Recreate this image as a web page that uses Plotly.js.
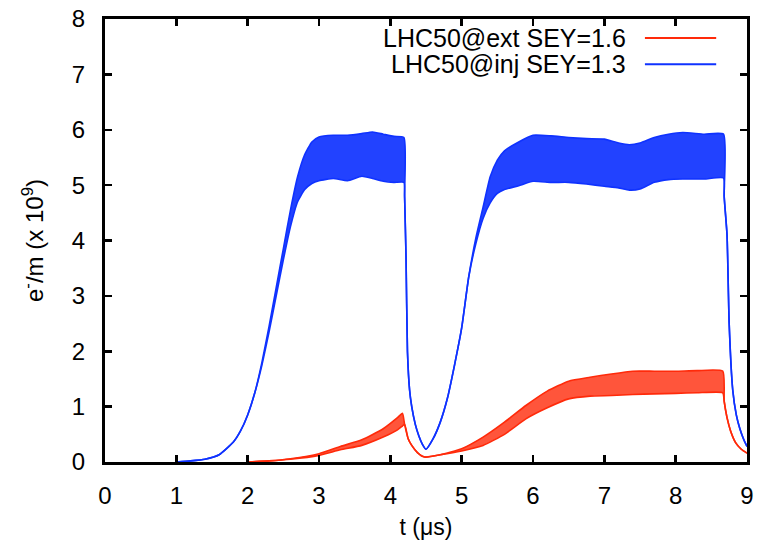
<!DOCTYPE html>
<html>
<head>
<meta charset="utf-8">
<script src="https://cdn.plot.ly/plotly-3.0.1.min.js"></script>
<style>html,body{margin:0;padding:0;background:#fff;}</style>
</head>
<body>
<div id="chart" style="width:760px;height:542px;"></div>
<script>
// ---- Data ----
// Red: LHC50@ext SEY=1.6 — envelope (lower / upper) of the oscillating e-cloud density
const redName = "LHC50@ext SEY=1.6";
const redT     = [2.0, 2.3, 2.6, 3.0, 3.3, 3.6, 3.9, 4.1, 4.17, 4.2, 4.25, 4.3, 4.38, 4.48, 4.7, 5.0, 5.3, 5.6, 5.9, 6.2, 6.5, 6.8, 7.1, 7.4, 7.7, 8.0, 8.3, 8.66, 8.68, 8.72, 8.77, 8.84, 8.92, 9.0];
const redLower = [0.0, 0.02, 0.05, 0.12, 0.22, 0.30, 0.45, 0.58, 0.65, 0.68, 0.42, 0.30, 0.17, 0.09, 0.13, 0.20, 0.30, 0.50, 0.78, 0.98, 1.14, 1.19, 1.20, 1.22, 1.23, 1.24, 1.25, 1.25, 1.10, 0.80, 0.56, 0.35, 0.23, 0.16];
const redUpper = [0.0, 0.02, 0.06, 0.15, 0.28, 0.40, 0.60, 0.80, 0.88, 0.68, 0.42, 0.30, 0.17, 0.09, 0.13, 0.24, 0.45, 0.72, 1.02, 1.28, 1.46, 1.53, 1.59, 1.64, 1.64, 1.64, 1.65, 1.64, 1.10, 0.80, 0.56, 0.35, 0.23, 0.16];

// Blue: LHC50@inj SEY=1.3
const blueName = "LHC50@inj SEY=1.3";
const blueT     = [1.0, 1.2, 1.4, 1.6, 1.8, 1.9, 2.0, 2.1, 2.2, 2.3, 2.4, 2.5, 2.6, 2.7, 2.8, 2.9, 3.0, 3.2, 3.4, 3.6, 3.75, 3.9, 4.05, 4.19, 4.2, 4.22, 4.24, 4.27, 4.3, 4.35, 4.4, 4.45, 4.5, 4.6, 4.7, 4.8, 4.9, 5.0, 5.1, 5.2, 5.3, 5.4, 5.5, 5.6, 5.8, 6.0, 6.25, 6.5, 6.75, 7.0, 7.2, 7.35, 7.5, 7.7, 7.9, 8.1, 8.4, 8.67, 8.68, 8.72, 8.75, 8.8, 8.85, 8.9, 8.95, 9.0];
const blueLower = [0.0, 0.02, 0.05, 0.13, 0.36, 0.56, 0.85, 1.25, 1.75, 2.35, 3.00, 3.65, 4.25, 4.70, 4.92, 5.03, 5.08, 5.12, 5.08, 5.16, 5.12, 5.07, 5.05, 5.05, 4.80, 3.70, 2.00, 1.30, 1.00, 0.68, 0.47, 0.32, 0.23, 0.42, 0.72, 1.15, 1.75, 2.42, 3.35, 3.95, 4.40, 4.68, 4.85, 4.92, 4.99, 5.07, 5.05, 5.05, 5.02, 4.98, 4.95, 4.91, 4.93, 5.05, 5.10, 5.11, 5.11, 5.13, 4.80, 4.10, 2.50, 1.30, 0.85, 0.60, 0.42, 0.28];
const blueUpper = [0.0, 0.02, 0.05, 0.13, 0.36, 0.56, 0.85, 1.25, 1.80, 2.45, 3.15, 3.85, 4.55, 5.15, 5.55, 5.78, 5.87, 5.90, 5.90, 5.93, 5.96, 5.92, 5.88, 5.86, 4.80, 3.70, 2.00, 1.30, 1.00, 0.68, 0.47, 0.32, 0.23, 0.42, 0.72, 1.15, 1.75, 2.42, 3.35, 4.05, 4.60, 5.15, 5.45, 5.62, 5.78, 5.90, 5.89, 5.86, 5.84, 5.83, 5.76, 5.73, 5.76, 5.86, 5.92, 5.95, 5.92, 5.92, 4.80, 4.10, 2.50, 1.30, 0.85, 0.60, 0.42, 0.28];

const xTicks = [0, 1, 2, 3, 4, 5, 6, 7, 8, 9];
const yTicks = [0, 1, 2, 3, 4, 5, 6, 7, 8];

// ---- Styles ----
const RED = "#ff2a0a";
const BLUE = "#0f32ff";
const FONT = "Liberation Sans, Arial, Helvetica, sans-serif";

function band(t, lo, up, color, fill) {
  const ln = {color: color, width: 1.6, shape: "spline", smoothing: 0.5};
  return [
    {x: t, y: lo, type: "scatter", mode: "lines", line: ln, hoverinfo: "skip", showlegend: false},
    {x: t, y: up, type: "scatter", mode: "lines", line: ln, fill: "tonexty", fillcolor: fill, hoverinfo: "skip", showlegend: false}
  ];
}

const data = [].concat(
  band(redT, redLower, redUpper, RED, "rgba(255,42,10,0.8)"),
  band(blueT, blueLower, blueUpper, BLUE, "rgba(15,50,255,0.92)")
);

const axisCommon = {
  showgrid: false, zeroline: false,
  showline: true, linecolor: "#000", linewidth: 3,
  mirror: "allticks", ticks: "inside", ticklen: 7, tickwidth: 2.5, tickcolor: "#000",
  tickfont: {family: FONT, size: 24, color: "#000"}
};

const layout = {
  width: 760, height: 542,
  margin: {l: 105, r: 13, t: 19, b: 80},
  paper_bgcolor: "#fff", plot_bgcolor: "#fff",
  showlegend: false,
  font: {family: FONT, color: "#000"},
  xaxis: Object.assign({}, axisCommon, {
    range: [0, 9], tickvals: xTicks, ticktext: xTicks.map(String),
    ticklabelstandoff: 10,
    title: {text: "t (\u03bcs)", font: {family: FONT, size: 23, color: "#000"}, standoff: 12}
  }),
  yaxis: Object.assign({}, axisCommon, {
    range: [0, 8], tickvals: yTicks, ticktext: yTicks.map(String),
    ticklabelstandoff: 12,
    title: {text: "e<sup>-</sup>/m (x 10<sup>9</sup>)", font: {family: FONT, size: 24, color: "#000"}, standoff: 22}
  }),
  annotations: [
    {xref: "paper", yref: "paper", x: 0.815, y: 0.957, xanchor: "right", yanchor: "middle", text: redName, showarrow: false, font: {family: FONT, size: 25, color: "#000"}},
    {xref: "paper", yref: "paper", x: 0.815, y: 0.898, xanchor: "right", yanchor: "middle", text: blueName, showarrow: false, font: {family: FONT, size: 25, color: "#000"}}
  ],
  shapes: [
    {type: "line", xref: "paper", yref: "paper", x0: 0.841, x1: 0.952, y0: 0.957, y1: 0.957, line: {color: RED, width: 2}},
    {type: "line", xref: "paper", yref: "paper", x0: 0.841, x1: 0.952, y0: 0.898, y1: 0.898, line: {color: BLUE, width: 2}}
  ]
};

Plotly.newPlot("chart", data, layout, {displayModeBar: false, staticPlot: true});
</script>
</body>
</html>
